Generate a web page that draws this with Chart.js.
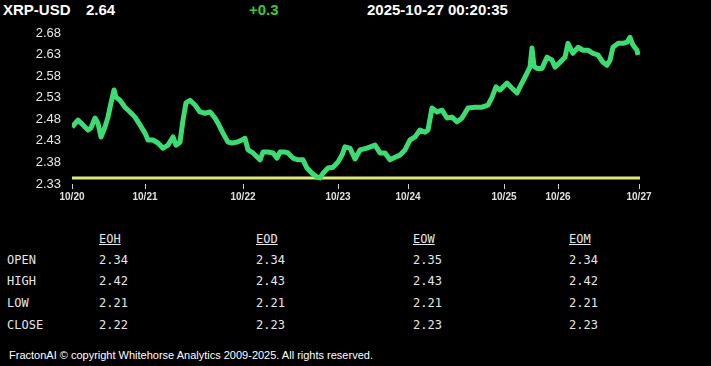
<!DOCTYPE html>
<html>
<head>
<meta charset="utf-8">
<script src="https://cdn.jsdelivr.net/npm/chart.js@4/dist/chart.umd.min.js"></script>
<style>
  html, body { margin: 0; padding: 0; background: #000; }
  body { width: 711px; height: 366px; position: relative; overflow: hidden; }
  .hdr { position: absolute; top: 1px; font: bold 15px "Liberation Sans", Arial, sans-serif; color: #fff; white-space: nowrap; }
  .tbl { position: absolute; font: 12px "DejaVu Sans Mono", monospace; color: #e6e6e6; line-height: 14px; white-space: nowrap; }
  .tbl.h { text-decoration: underline; }
  #foot { position: absolute; left: 9px; top: 349px; font: 11px "Liberation Sans", Arial, sans-serif; color: #fff; line-height: 13px; white-space: nowrap; }
  #chartCanvas { position: absolute; left: 0; top: 0; }
</style>
</head>
<body>
<div class="hdr" style="left:3px">XRP-USD</div>
<div class="hdr" style="left:86px">2.64</div>
<div class="hdr" style="left:249px;color:#3fc63f">+0.3</div>
<div class="hdr" style="left:367px">2025-10-27 00:20:35</div>
<canvas id="chartCanvas" width="711" height="212"></canvas>
<div id="table"></div>
<div id="foot">FractonAI © copyright Whitehorse Analytics 2009-2025. All rights reserved.</div>
<script>
    // price samples (sample index along the session, price)
    var sampleIdx = [0, 6, 11, 16, 19, 23, 26, 29, 33, 36, 39, 42, 44, 48, 53, 58, 63, 68, 73, 76,
        81, 86, 91, 96, 101, 104, 108, 111, 114, 118, 123, 128, 133, 138, 143, 146, 151, 156, 160, 165,
        170, 173, 176, 181, 188, 191, 196, 201, 205, 208, 213, 216, 221, 226, 231, 235, 240, 245, 248, 251,
        256, 261, 266, 270, 273, 278, 283, 288, 295, 303, 308, 313, 318, 323, 328, 333, 338, 343, 348, 353,
        356, 360, 365, 370, 375, 380, 385, 390, 396, 403, 410, 416, 420, 424, 428, 435, 440, 445, 448, 453,
        458, 460, 462, 465, 470, 475, 480, 483, 488, 493, 496, 501, 506, 511, 516, 521, 526, 531, 535, 538,
        541, 546, 551, 555, 558, 561, 565, 566];
    var price = [2.462, 2.478, 2.467, 2.455, 2.460, 2.483, 2.471, 2.439, 2.462, 2.485, 2.518, 2.548, 2.531, 2.524, 2.508, 2.497, 2.485, 2.467, 2.448, 2.432,
        2.432, 2.425, 2.413, 2.420, 2.439, 2.420, 2.427, 2.478, 2.518, 2.524, 2.513, 2.497, 2.494, 2.497, 2.483, 2.471, 2.448, 2.427, 2.425, 2.427,
        2.432, 2.436, 2.409, 2.402, 2.386, 2.404, 2.404, 2.402, 2.390, 2.404, 2.404, 2.402, 2.390, 2.386, 2.386, 2.367, 2.355, 2.346, 2.344, 2.355,
        2.367, 2.369, 2.381, 2.397, 2.416, 2.413, 2.388, 2.409, 2.413, 2.420, 2.402, 2.402, 2.386, 2.392, 2.397, 2.409, 2.432, 2.439, 2.455, 2.450,
        2.455, 2.506, 2.497, 2.501, 2.483, 2.485, 2.474, 2.483, 2.506, 2.508, 2.508, 2.513, 2.531, 2.555, 2.548, 2.564, 2.552, 2.541, 2.555, 2.578,
        2.601, 2.645, 2.603, 2.598, 2.598, 2.624, 2.617, 2.601, 2.612, 2.624, 2.656, 2.633, 2.647, 2.640, 2.640, 2.633, 2.629, 2.612, 2.605, 2.617,
        2.647, 2.656, 2.656, 2.659, 2.670, 2.652, 2.640, 2.629];
    var lastIdx = 568;
    var refLevel = 2.344;

    var dayLabels = ["10/20", "10/21", "10/22", "10/23", "10/24", "10/25", "10/26", "10/27"];
    var dayStartIdx = [0, 73, 171, 266, 336, 432, 486, 567];
    var yTicks = [2.33, 2.38, 2.43, 2.48, 2.53, 2.58, 2.63, 2.68];

    // end-of-period table
    var periodCols = ["EOH", "EOD", "EOW", "EOM"];
    var rowNames = ["OPEN", "HIGH", "LOW", "CLOSE"];
    var openVals = [2.34, 2.34, 2.35, 2.34];
    var highVals = [2.42, 2.43, 2.43, 2.42];
    var lowVals = [2.21, 2.21, 2.21, 2.21];
    var closeVals = [2.22, 2.23, 2.23, 2.23];

    var buildTable = function() {
        var tbl = document.getElementById('table');
        var colX = [99, 256, 413, 569];
        var rowY = [253, 274, 296, 318];
        var rows = [openVals, highVals, lowVals, closeVals];
        var html = '';
        periodCols.forEach(function(c, i) {
            html += '<div class="tbl h" style="left:' + colX[i] + 'px;top:232px">' + c + '</div>';
        });
        rowNames.forEach(function(r, j) {
            html += '<div class="tbl" style="left:7px;top:' + rowY[j] + 'px">' + r + '</div>';
            rows[j].forEach(function(v, i) {
                html += '<div class="tbl" style="left:' + colX[i] + 'px;top:' + rowY[j] + 'px">' + v.toFixed(2) + '</div>';
            });
        });
        tbl.innerHTML = html;
    };

    var priceData = sampleIdx.map(function(x, i) { return {x: x, y: price[i]}; });
    var refData = [{x: 0, y: refLevel}, {x: lastIdx, y: refLevel}];

    var chartData = {
        datasets: [
            {
                data: priceData,
                borderColor: "#3ddc72",
                borderWidth: 5,
                borderJoinStyle: 'round',
                pointRadius: 0,
                tension: 0
            },
            {
                data: refData,
                borderColor: "#dfe87c",
                borderWidth: 3,
                pointRadius: 0
            }
        ]
    };

    var chartOptions = {
        responsive: false,
        animation: false,
        layout: { padding: { left: 0, right: 71, top: 33, bottom: 8 } },
        plugins: { legend: { display: false }, tooltip: { enabled: false } },
        scales: {
            x: {
                type: 'linear',
                min: 0,
                max: lastIdx,
                border: { display: false },
                grid: { drawOnChartArea: false, drawTicks: true, tickLength: 5, color: '#d0d0d0' },
                afterBuildTicks: function(scale) {
                    scale.ticks = dayStartIdx.map(function(v) { return {value: v}; });
                },
                afterFit: function(scale) { scale.height = 20; },
                ticks: {
                    color: '#e0e0e0',
                    padding: 2,
                    maxRotation: 0,
                    autoSkip: false,
                    font: { family: 'Liberation Sans', size: 10, weight: 'bold' },
                    callback: function(value, index) { return dayLabels[index]; }
                }
            },
            y: {
                min: yTicks[0],
                max: yTicks[yTicks.length - 1],
                border: { display: false },
                grid: { display: false, drawTicks: false },
                afterBuildTicks: function(scale) {
                    scale.ticks = yTicks.map(function(v) { return {value: v}; });
                },
                afterFit: function(scale) { scale.width = 72; },
                ticks: {
                    color: '#e8e8e8',
                    padding: 11,
                    font: { family: 'Liberation Sans', size: 13 },
                    callback: function(value) { return value.toFixed(2); }
                }
            }
        }
    };

    window.onload = function() {
        buildTable();
        var ctx = document.getElementById("chartCanvas").getContext("2d");
        window.myLine = new Chart(ctx, {
            type: 'line',
            data: chartData,
            options: chartOptions
        });
    };
</script>
</body>
</html>
